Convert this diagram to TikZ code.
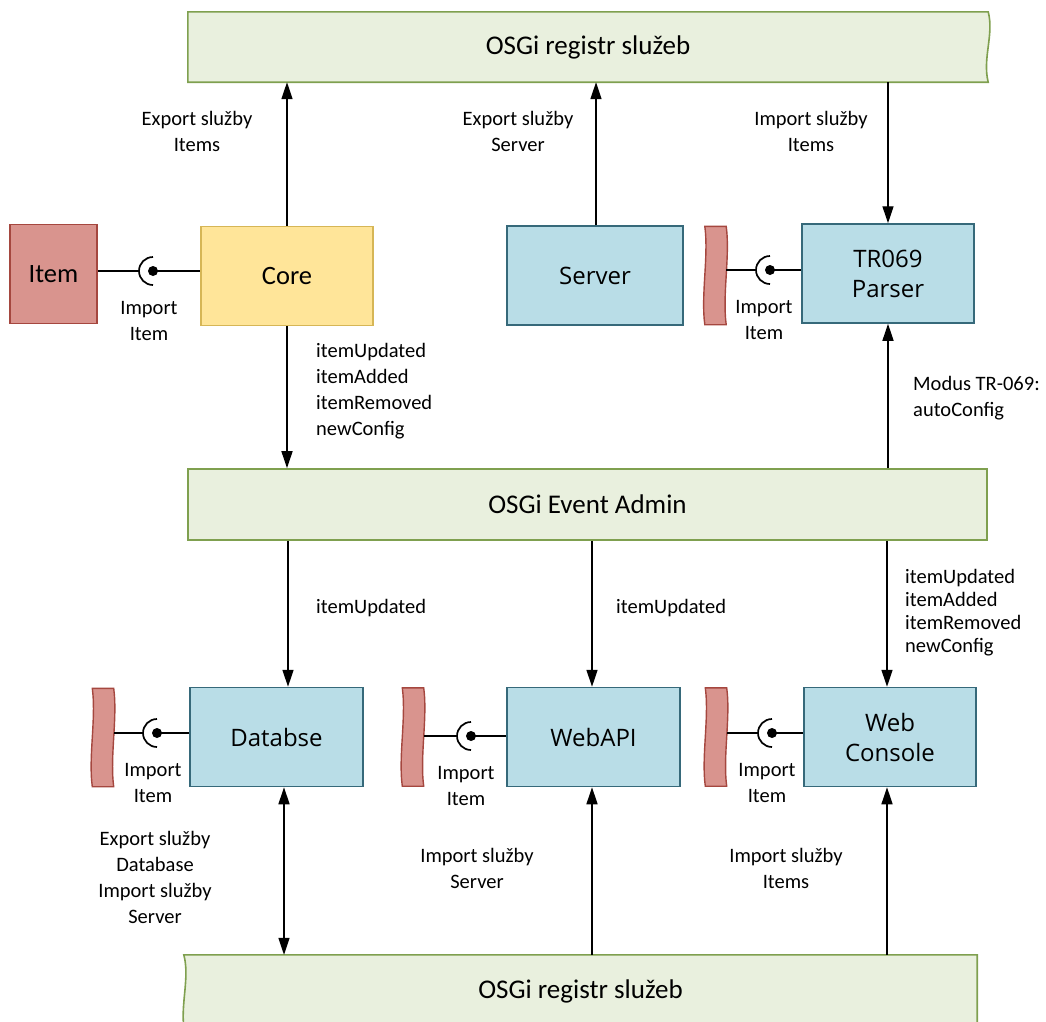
\documentclass[tikz,border=0pt]{standalone}
\usepackage{fontspec}
\setmainfont{Carlito}
\newfontfamily\boxfont{Open Sans}
\usetikzlibrary{arrows.meta,calc,backgrounds}

\definecolor{barfill}{HTML}{E9F0DE}
\definecolor{barline}{HTML}{7FA04F}
\definecolor{corefill}{HTML}{FFE599}
\definecolor{coreline}{HTML}{D6B656}
\definecolor{svcfill}{HTML}{B9DDE7}
\definecolor{svcline}{HTML}{36697A}
\definecolor{itemfill}{HTML}{D9948E}
\definecolor{itemline}{HTML}{A5473F}

% a narrow bundle drawn with wavy long sides around a placeholder node
\newcommand\wavytape[1]{%
  \path[draw=itemline, fill=itemfill, line width=1.4pt]
    (#1.north west) -- (#1.north east)
    .. controls ($(#1.north east)+(4,30)$) and ($(#1.south east)+(-4,-30)$) .. (#1.south east)
    -- (#1.south west)
    .. controls ($(#1.south west)+(-4,-30)$) and ($(#1.north west)+(4,30)$) .. cycle;}

\begin{document}
\begin{tikzpicture}[x=1pt,y=-1pt,
  conn/.style={line width=1.4pt, black},
  arr/.style={conn, -{Triangle[length=17pt,width=11pt]}},
  darr/.style={conn, {Triangle[length=17pt,width=11pt]}-{Triangle[length=17pt,width=11pt]}},
  bar/.style={minimum width=#1, minimum height=70, inner sep=0,
    font=\fontsize{27}{30}\selectfont},
  svc/.style={draw=svcline, fill=svcfill, line width=1.5pt, minimum width=#1,
    minimum height=99, inner sep=0, align=center,
    font=\boxfont\fontsize{24}{30}\selectfont},
  corebox/.style={draw=coreline, fill=corefill, line width=1.5pt, minimum width=172,
    minimum height=99, inner sep=0, font=\fontsize{26.5}{30}\selectfont},
  itembox/.style={draw=itemline, fill=itemfill, line width=1.5pt, minimum width=87,
    minimum height=99, inner sep=0, font=\fontsize{26.5}{30}\selectfont},
  tapeholder/.style={minimum width=21, minimum height=98, inner sep=0},
  lbl/.style={font=\fontsize{20.5}{26}\selectfont, align=center, inner sep=0},
  lbll/.style={lbl, align=left, anchor=west},
  socket/.pic={\draw[line width=1.7pt] (0,14pt) arc[start angle=90,end angle=270,radius=14pt];
    \fill (0,0) circle[radius=5pt];}
]
\useasboundingbox (0,0) rectangle (1046,1021);

% service registries and event admin
\node[bar=800] (regtop) at (588,47) {OSGi registr služeb};
\node[bar=793, minimum height=72] (regbot) at (580.5,991) {OSGi registr služeb};
\node[bar=799, minimum height=71, draw=barline, fill=barfill, line width=1.6pt] (ea) at (587.5,504.5) {OSGi Event Admin};

\begin{scope}[on background layer]
  \path[draw=barline, fill=barfill, line width=1.6pt]
    (regtop.north west) -- (regtop.north east)
    .. controls ($(regtop.north east)+(6,23)$) and ($(regtop.south east)+(-6,-24)$) .. (regtop.south east)
    -- (regtop.south west) -- cycle;
  \fill[barfill] (regbot.north west) -- (regbot.north east) -- (regbot.south east) -- (regbot.south west)
    .. controls ($(regbot.south west)+(-3,-24)$) and ($(regbot.north west)+(6,22)$) .. cycle;
  \draw[barline, line width=1.6pt] (regbot.south west)
    .. controls ($(regbot.south west)+(-3,-24)$) and ($(regbot.north west)+(6,22)$) .. (regbot.north west)
    -- (regbot.north east) -- (regbot.south east);
\end{scope}

% bundles
\node[itembox] (item) at (53.5,274) {Item};
\node[corebox] (core) at (287,276) {Core};
\node[svc=176] (server) at (595,275.5) {Server};
\node[svc=172] (parser) at (888,273.5) {TR069\\Parser};
\node[svc=173] (db) at (276.5,737) {Databse};
\node[svc=173] (api) at (593.5,737) {WebAPI};
\node[svc=172] (wc) at (890,737) {Web\\Console};

% item bundles beside the consumers
\node[tapeholder] (wt1) at (715.5,275.5) {};
\node[tapeholder] (wt2) at (103,737.5) {};
\node[tapeholder] (wt3) at (413,737) {};
\node[tapeholder] (wt4) at (716,737) {};
\wavytape{wt1}\wavytape{wt2}\wavytape{wt3}\wavytape{wt4}

% required/provided interface sockets
\coordinate (s1) at (153,271);
\coordinate (s2) at (770,270);
\coordinate (s3) at (157,733);
\coordinate (s4) at (471,736);
\coordinate (s5) at (772,733);
\foreach \s/\a/\b in {s1/item/core, s2/wt1/parser, s3/wt2/db, s4/wt3/api, s5/wt4/wc}{
  \draw[conn] (\a.east |- \s) -- ($(\s)+(-14,0)$);
  \draw[conn] (\s) -- (\b.west |- \s);
  \pic at (\s) {socket};
}

% column positions of the connectors
\coordinate (xcore) at (287,0);
\coordinate (xsrv) at (596,0);
\coordinate (xpar) at (888,0);
\coordinate (xdb) at (288,0);
\coordinate (xdbr) at (284,0);
\coordinate (xapi) at (592,0);
\coordinate (xwc) at (887,0);

\draw[arr] (core.north -| xcore) -- (regtop.south -| xcore);
\draw[arr] (server.north -| xsrv) -- (regtop.south -| xsrv);
\draw[arr] (regtop.south -| xpar) -- (parser.north -| xpar);
\draw[arr] (core.south -| xcore) -- (ea.north -| xcore);
\draw[arr] (ea.north -| xpar) -- (parser.south -| xpar);
\draw[arr] (ea.south -| xdb) -- (db.north -| xdb);
\draw[arr] (ea.south -| xapi) -- (api.north -| xapi);
\draw[arr] (ea.south -| xwc) -- (wc.north -| xwc);
\draw[darr] (db.south -| xdbr) -- (regbot.north -| xdbr);
\draw[arr] (regbot.north -| xapi) -- (api.south -| xapi);
\draw[arr] (regbot.north -| xwc) -- (wc.south -| xwc);

% connector labels
\node[lbl] (l1) at (197,131) {Export služby\\Items};
\node[lbl] (l2) at (518,131) {Export služby\\Server};
\node[lbl] (l3) at (811,131) {Import služby\\Items};
\node[lbl] (l4) at (149,320.5) {Import\\Item};
\node[lbl] (l5) at (764,320) {Import\\Item};
\node[lbll] (l6) at (316,391) {itemUpdated\\itemAdded\\itemRemoved\\newConfig};
\node[lbll] (l7) at (913,398) {Modus TR-069:\\autoConfig};
\node[lbll] (l8) at (316,608) {itemUpdated};
\node[lbll] (l9) at (616,608) {itemUpdated};
\node[lbll, font=\fontsize{20.5}{23}\selectfont] (l10) at (905,612.5) {itemUpdated\\itemAdded\\itemRemoved\\newConfig};
\node[lbl] (l11) at (153,783) {Import\\Item};
\node[lbl] (l12) at (466,786) {Import\\Item};
\node[lbl] (l13) at (767,783) {Import\\Item};
\node[lbl] (l14) at (155,877) {Export služby\\Database\\Import služby\\Server};
\node[lbl] (l15) at (477,868.5) {Import služby\\Server};
\node[lbl] (l16) at (786,868.5) {Import služby\\Items};
\end{tikzpicture}
\end{document}
